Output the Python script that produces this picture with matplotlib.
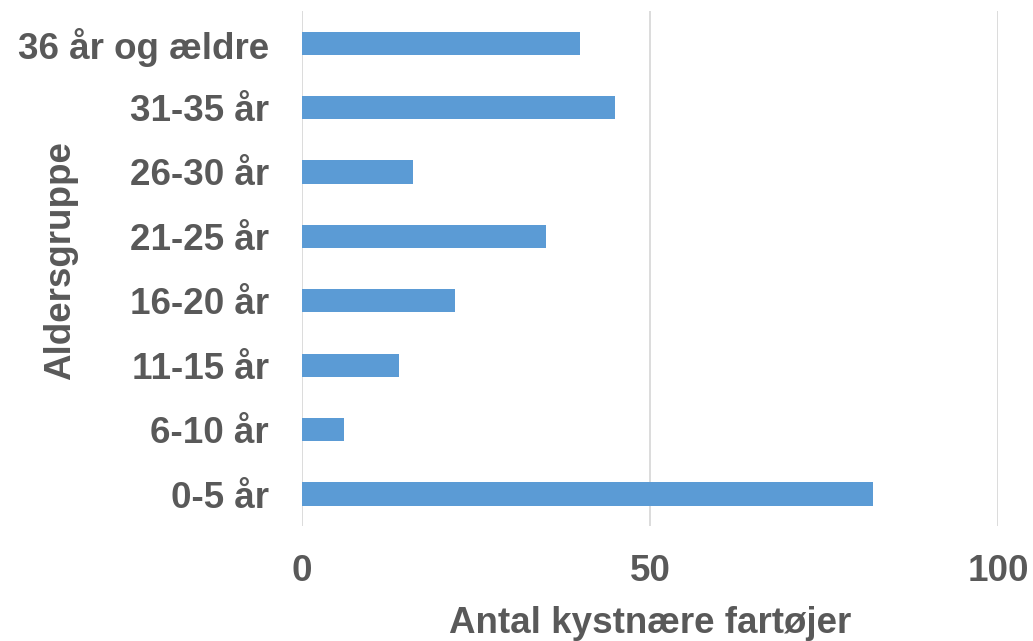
import matplotlib.pyplot as plt

# data
groups = ["0-5 år", "6-10 år", "11-15 år", "16-20 år", "21-25 år", "26-30 år", "31-35 år", "36 år og ældre"]
counts = [82, 6, 14, 22, 35, 16, 45, 40]
xticks = [0, 50, 100]

plt.rcParams['font.family'] = ['Liberation Sans', 'DejaVu Sans']
txt = '#595959'
fs = 26.5

fig = plt.figure(figsize=(10.33, 6.41), dpi=100)
ax = fig.add_axes([0.2924, 0.179, 0.6736, 0.804])

ax.barh(range(len(groups)), counts, height=0.36, color='#5B9BD5', zorder=3)
ax.set_xlim(0, 100)
ax.set_ylim(-0.5, len(groups) - 0.5)
ax.set_xticks(xticks)
ax.set_yticks(range(len(groups)))
ax.set_yticklabels(groups)
ax.grid(axis='x', color='#D9D9D9', linewidth=1.3, zorder=0)
for s in ax.spines.values():
    s.set_visible(False)
ax.tick_params(length=0, labelsize=fs, labelcolor=txt)
ax.tick_params(axis='x', pad=20)
ax.tick_params(axis='y', pad=24)
for lab in ax.get_xticklabels() + ax.get_yticklabels():
    lab.set_fontweight('bold')

ax.set_xlabel("Antal kystnære fartøjer", fontsize=fs, fontweight='bold', color=txt)
ax.set_ylabel("Aldersgruppe", fontsize=fs, fontweight='bold', color=txt)
ax.xaxis.set_label_coords(0.5, -0.154)
ax.yaxis.set_label_coords(-0.322, 0.516)

fig.savefig('out.png', dpi=100)
